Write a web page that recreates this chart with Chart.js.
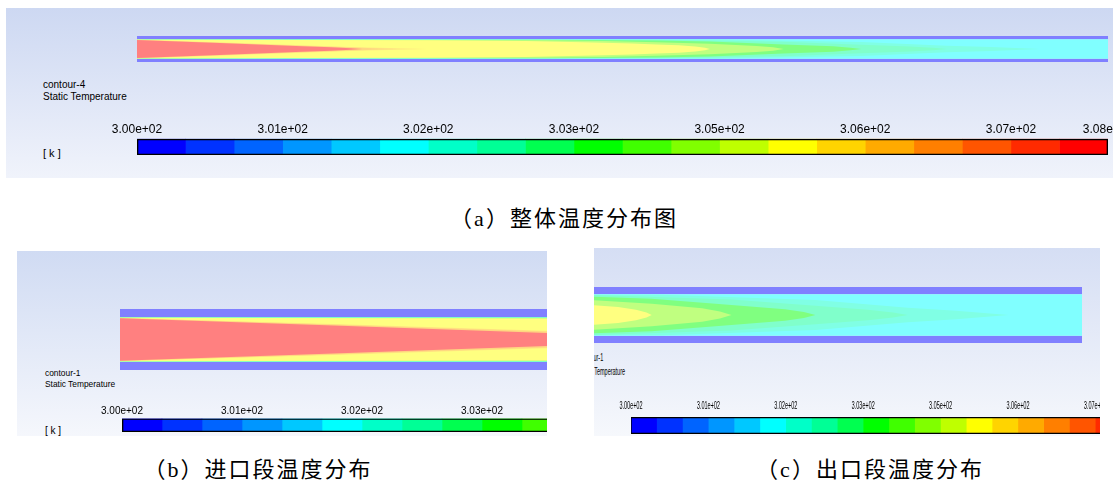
<!DOCTYPE html>
<html>
<head>
<meta charset="utf-8">
<script src="https://cdn.jsdelivr.net/npm/chart.js@4.4.0/dist/chart.umd.min.js"></script>
<style>
html, body { margin: 0; padding: 0; background: #fff; width: 1113px; height: 480px; overflow: hidden; position: relative; }
.panel { position: absolute; overflow: hidden; }
.panel canvas { position: absolute; }
.lbl { position: absolute; font-family: "Liberation Sans", Arial, sans-serif; color: #000; white-space: nowrap; line-height: 1; }
.squish { transform: scaleX(0.5); transform-origin: 0 0; }
.cap { position: absolute; font-family: "Liberation Serif", "Noto Sans CJK SC", serif; font-size: 22px; letter-spacing: 2px; color: #000; white-space: nowrap; transform: translate(-50%, -50%); }
</style>
</head>
<body>

<div class="panel" id="panelA" style="left:6px;top:8px;width:1107px;height:170px;background:linear-gradient(#cdd8f2,#f0f3fb);">
  <canvas id="pipeA" width="971" height="26" style="left:131px;top:28px;"></canvas>
  <div class="lbl" style="left:37px;top:72px;font-size:10px;">contour-4</div>
  <div class="lbl" style="left:37px;top:84px;font-size:10px;">Static Temperature</div>
  <canvas id="barA" width="1051" height="37" style="left:91px;top:110px;"></canvas>
  <div class="lbl" style="left:37px;top:140px;font-size:11px;">[ k ]</div>
</div>

<div class="panel" id="panelB" style="left:17px;top:251px;width:530px;height:185px;background:linear-gradient(#d0dbf3,#f5f7fc);">
  <canvas id="pipeB" width="427" height="61" style="left:103px;top:58px;"></canvas>
  <div class="lbl" style="left:28px;top:118px;font-size:8.4px;">contour-1</div>
  <div class="lbl" style="left:28px;top:129px;font-size:8.4px;">Static Temperature</div>
  <canvas id="barB" width="880" height="31" style="left:65px;top:150px;"></canvas>
  <div class="lbl" style="left:28px;top:175px;font-size:10px;">[ k ]</div>
</div>

<div class="panel" id="panelC" style="left:594px;top:248px;width:506px;height:188px;background:linear-gradient(#d5def4,#f6f8fc);">
  <canvas id="pipeC" width="488" height="56" style="left:0px;top:39px;"></canvas>
  <div class="lbl squish" style="left:-14px;top:104px;font-size:11px;">contour-1</div>
  <div class="lbl squish" style="left:-15px;top:118px;font-size:11px;">Static Temperature</div>
  <canvas id="barC" class="squish" width="1112" height="39" style="left:17px;top:147px;"></canvas>
</div>

<div class="cap" style="left:564px;top:216px;">（a）整体温度分布图</div>
<div class="cap" style="left:258px;top:467px;">（b）进口段温度分布</div>
<div class="cap" style="left:870px;top:467px;">（c）出口段温度分布</div>

<script>
// Fluent 20-band colour map, coldest first
const bandColors = ['#0000ff', '#0032ff', '#0064ff', '#0096ff', '#00c8ff', '#00ffff', '#00ffc8', '#00ff96', '#00ff50', '#00ff00',
                    '#40ff00', '#80ff00', '#bfff00', '#ffff00', '#ffd400', '#ffaa00', '#ff7f00', '#ff5500', '#ff2a00', '#ff0000'];
const bandEdges = [0, 1, 2, 3, 4, 5, 6, 7, 8, 9, 10, 11, 12, 13, 14, 15, 16, 17, 18, 19, 20];
const tickAt = [0, 3, 6, 9, 12, 15, 18, 20];
const tickLabels = ['3.00e+02', '3.01e+02', '3.02e+02', '3.03e+02', '3.05e+02', '3.06e+02', '3.07e+02', '3.08e+02'];

// pipe geometry: axial position z (0 = inlet, 1 = outlet), radius r (1 = inner wall)
const pipeZ = [0, 1];
const wallR = [1, 1.35];

// isotherm half-widths [z, r]
const iso19 = [[0, 0.94], [0.085, 0.62], [0.17, 0.285], [0.2, 0.17], [0.22, 0.07], [0.232, 0]];
const iso15 = [[0, 0.95], [0.085, 0.66], [0.17, 0.35], [0.21, 0.2], [0.25, 0.06], [0.268, 0]];
const iso14 = [[0, 0.955], [0.085, 0.69], [0.17, 0.39], [0.22, 0.22], [0.27, 0.08], [0.299, 0]];
const iso13 = [[0, 0.96], [0.17, 0.93], [0.3, 0.9], [0.4, 0.84], [0.47, 0.68], [0.51, 0.56], [0.535, 0.47], [0.558, 0.38], [0.575, 0.25], [0.585, 0.12], [0.59, 0]];
const iso11 = [[0, 0.963], [0.3, 0.93], [0.42, 0.9], [0.48, 0.82], [0.535, 0.71], [0.59, 0.54], [0.638, 0.32], [0.655, 0.17], [0.666, 0]];
const iso9 = [[0, 0.967], [0.3, 0.96], [0.42, 0.95], [0.535, 0.88], [0.59, 0.78], [0.666, 0.48], [0.717, 0.28], [0.735, 0.14], [0.746, 0]];
const iso7 = [[0, 0.975], [0.3, 0.97], [0.45, 0.97], [0.535, 0.96], [0.666, 0.75], [0.746, 0.45], [0.796, 0.25], [0.82, 0.12], [0.834, 0]];
const iso6 = [[0, 0.985], [0.3, 0.975], [0.6, 0.975], [0.746, 0.72], [0.834, 0.35], [0.88, 0.2], [0.93, 0]];

const contourLevels = [
  { band: 19, pts: iso19 },
  { band: 15, pts: iso15 },
  { band: 14, pts: iso14 },
  { band: 13, pts: iso13 },
  { band: 11, pts: iso11 },
  { band: 9, pts: iso9 },
  { band: 7, pts: iso7 },
  { band: 6, pts: iso6 },
];

Chart.defaults.font.family = '"Liberation Sans", Arial, sans-serif';
Chart.defaults.color = '#000';

// contour shading is the band colour washed half way to white
function pale(hex) {
  const n = parseInt(hex.slice(1), 16);
  const mix = c => Math.round((c + 255) / 2);
  return `rgb(${mix(n >> 16 & 255)},${mix(n >> 8 & 255)},${mix(n & 255)})`;
}

function shape(points, color) {
  return { data: points, backgroundColor: color, borderWidth: 0, pointRadius: 0, fill: 'shape' };
}

// upper half forward, lower half back -> closed symmetric region
function isoShape(pts, color) {
  const upper = pts.map(p => ({ x: p[0], y: p[1] }));
  const lower = pts.slice().reverse().map(p => ({ x: p[0], y: -p[1] }));
  return shape(upper.concat(lower), color);
}

function band(r0, r1, color) {
  return shape([{ x: pipeZ[0], y: r0 }, { x: pipeZ[1], y: r0 }, { x: pipeZ[1], y: r1 }, { x: pipeZ[0], y: r1 }], color);
}

function pipeChart(id, zMin, zMax) {
  // first dataset is drawn on top
  let datasets = contourLevels.map(l => isoShape(l.pts, pale(bandColors[l.band])));
  datasets.push(band(-wallR[0], wallR[0], pale(bandColors[5])));
  datasets.push(band(wallR[0], wallR[1], pale(bandColors[0])));
  datasets.push(band(-wallR[1], -wallR[0], pale(bandColors[0])));

  new Chart(document.getElementById(id), {
    type: 'line',
    data: { datasets: datasets },
    options: {
      responsive: false,
      animation: false,
      devicePixelRatio: 1,
      layout: { padding: 0 },
      plugins: { legend: { display: false }, tooltip: { enabled: false } },
      scales: {
        x: { type: 'linear', min: zMin, max: zMax, display: false },
        y: { type: 'linear', min: -wallR[1], max: wallR[1], display: false }
      }
    }
  });
}

function colorbar(id, fontSize, tickPad, padTop) {
  let datasets = [{ data: [[bandEdges[0], bandEdges[bandEdges.length - 1]]], backgroundColor: 'transparent', borderColor: '#000', borderWidth: 1 }];
  bandColors.forEach((c, i) => {
    datasets.push({ data: [[bandEdges[i], bandEdges[i + 1]]], backgroundColor: c, borderWidth: 0 });
  });

  new Chart(document.getElementById(id), {
    type: 'bar',
    data: { labels: [''], datasets: datasets },
    options: {
      indexAxis: 'y',
      responsive: false,
      animation: false,
      devicePixelRatio: 1,
      layout: { padding: { left: 40, right: 40, top: padTop, bottom: 0 } },
      datasets: { bar: { grouped: false, barPercentage: 1, categoryPercentage: 1, borderSkipped: false } },
      plugins: { legend: { display: false }, tooltip: { enabled: false } },
      scales: {
        x: {
          type: 'linear', position: 'top',
          min: bandEdges[0], max: bandEdges[bandEdges.length - 1],
          grid: { display: false, drawTicks: false },
          border: { display: false },
          afterBuildTicks: axis => { axis.ticks = tickAt.map(v => ({ value: v })); },
          ticks: {
            autoSkip: false, maxRotation: 0, minRotation: 0,
            padding: tickPad,
            font: { size: fontSize },
            callback: (v, i) => tickLabels[i]
          }
        },
        y: { display: false }
      }
    }
  });
}

pipeChart('pipeA', 0, 1);
pipeChart('pipeB', 0, 0.17);
pipeChart('pipeC', 0.535, 1);

colorbar('barA', 12, 2, 4.6);
colorbar('barB', 10, 1, 4);
colorbar('barC', 11, 4, 4.8);
</script>
</body>
</html>
